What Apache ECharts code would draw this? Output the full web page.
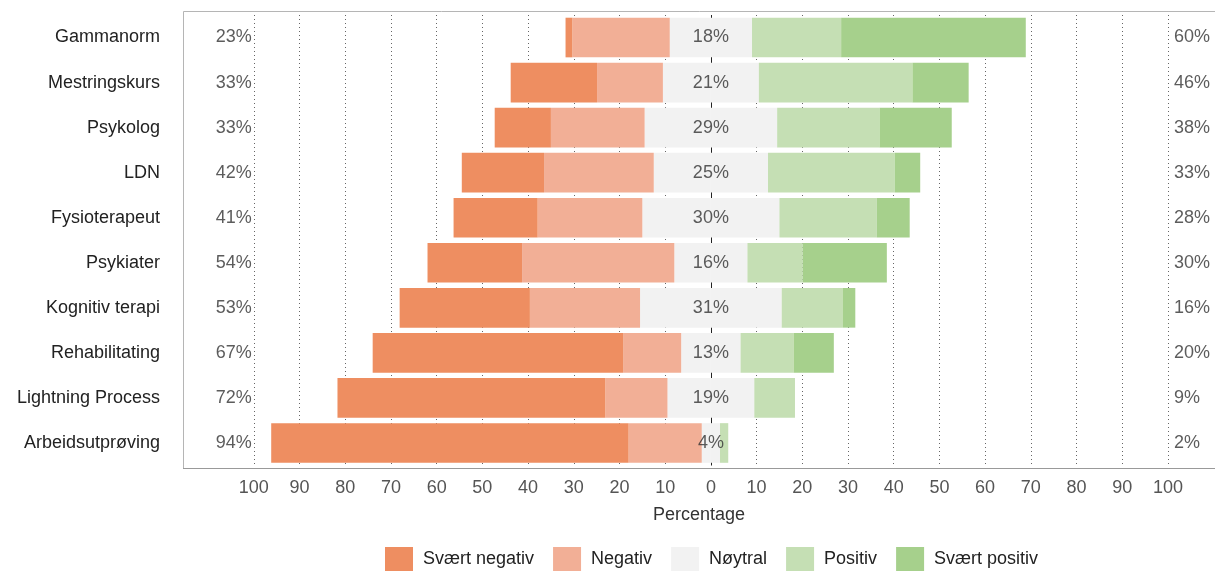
<!DOCTYPE html>
<html>
<head>
<meta charset="utf-8">
<script src="https://cdn.jsdelivr.net/npm/echarts@6/dist/echarts.min.js"></script>
<style>
html,body{margin:0;padding:0;background:#fff;}
#chart{width:1215px;height:571px;}
</style>
</head>
<body>
<div id="chart"></div>
<script>
const categories = ['Gammanorm','Mestringskurs','Psykolog','LDN','Fysioterapeut','Psykiater','Kognitiv terapi','Rehabilitating','Lightning Process','Arbeidsutprøving'];
const sværtNegativ = [1.5, 18.9, 12.3, 18, 18.4, 20.7, 28.5, 54.8, 58.6, 78.2];
const negativ      = [21.3, 14.4, 20.5, 24, 22.9, 33.3, 24.1, 12.7, 13.6, 16];
const nøytral      = [18, 21, 29, 25, 30, 16, 31, 13, 19, 4];
const positiv      = [19.5, 33.6, 22.4, 27.7, 21.3, 12.1, 13.3, 11.6, 8.9, 1.8];
const sværtPositiv = [40.4, 12.3, 15.8, 5.6, 7.2, 18.4, 2.8, 8.8, 0, 0];
const leftPct    = [23, 33, 33, 42, 41, 54, 53, 67, 72, 94];
const neutralPct = [18, 21, 29, 25, 30, 16, 31, 13, 19, 4];
const rightPct   = [60, 46, 38, 33, 28, 30, 16, 20, 9, 2];
const tickValues = [-100,-90,-80,-70,-60,-50,-40,-30,-20,-10,0,10,20,30,40,50,60,70,80,90,100];
const legendNames = ['Svært negativ','Negativ','Nøytral','Positiv','Svært positiv'];
const colors = {'Svært negativ':'#EE8E61','Negativ':'#F2AF96','Nøytral':'#F2F2F2','Positiv':'#C5DFB4','Svært positiv':'#A6D08C'};

const FONT = 'Liberation Sans, Arial, sans-serif';
const FS = 18;
const chart = echarts.init(document.getElementById('chart'), null, {renderer:'canvas'});

function barSeries(name, data, extra) {
  return Object.assign({
    name: name, type: 'bar', stack: 'likert', data: data,
    barCategoryGap: '12%',
    itemStyle: {color: colors[name]},
    emphasis: {disabled: true},
    animation: false
  }, extra || {});
}

const gridMarks = tickValues.filter(v => v !== 0).map(v => ({xAxis: v}));

const series = [
  barSeries('Nøytral', nøytral.map(v => -v/2), {
    markLine: {
      silent: true, symbol: 'none', z: 1, animation: false,
      label: {show: false},
      lineStyle: {color: '#666', width: 1, type: [1, 3]},
      data: gridMarks.concat([{xAxis: 0, lineStyle: {color: '#222', type: 'solid', width: 1}}])
    }
  }),
  barSeries('Nøytral', nøytral.map(v => v/2)),
  barSeries('Negativ', negativ.map(v => -v)),
  barSeries('Positiv', positiv),
  barSeries('Svært negativ', sværtNegativ.map(v => -v)),
  barSeries('Svært positiv', sværtPositiv),
  {
    name: 'leftLabels', type: 'scatter', symbolSize: 0, silent: true, animation: false,
    data: categories.map((c, i) => [-100, c, leftPct[i]]),
    label: {show: true, position: 'left', distance: 2, color: '#333', fontSize: FS, fontFamily: FONT,
      formatter: p => p.data[2] + '%'}
  },
  {
    name: 'midLabels', type: 'scatter', symbolSize: 0, silent: true, animation: false, z: 5,
    data: categories.map((c, i) => [0, c, neutralPct[i]]),
    label: {show: true, position: 'inside', color: '#333', fontSize: FS, fontFamily: FONT,
      formatter: p => p.data[2] + '%'}
  },
  {
    name: 'rightLabels', type: 'scatter', symbolSize: 0, silent: true, animation: false,
    data: categories.map((c, i) => [100, c, rightPct[i]]),
    label: {show: true, position: 'right', distance: 6, color: '#333', fontSize: FS, fontFamily: FONT,
      formatter: p => p.data[2] + '%'}
  }
];

chart.setOption({
  backgroundColor: '#fff',
  animation: false,
  textStyle: {fontFamily: FONT},
  graphic: [{
    type: 'rect', silent: true, z: 0,
    shape: {x: 183.5, y: 11.5, width: 1040, height: 457},
    style: {fill: 'none', stroke: '#b5b5b5', lineWidth: 1}
  }, {
    type: 'line', silent: true, z: 0,
    shape: {x1: 183, y1: 468.5, x2: 1215, y2: 468.5},
    style: {stroke: '#999', lineWidth: 1}
  }],
  grid: {left: 183, right: 0, top: 15, bottom: 105.5},
  legend: {
    data: legendNames, left: 385, top: 547, padding: 0,
    itemWidth: 28, itemHeight: 25, itemGap: 19,
    icon: 'rect',
    textStyle: {fontSize: FS, color: '#222', fontFamily: FONT, padding: [0, 0, 0, 5]},
    selectedMode: false
  },
  xAxis: {
    type: 'value', min: -115.5, max: 110.3,
    name: 'Percentage', nameLocation: 'middle', nameGap: 41,
    nameTextStyle: {fontSize: FS, color: '#333', fontFamily: FONT},
    axisLine: {show: false},
    axisTick: {show: false},
    splitLine: {show: false},
    axisLabel: {customValues: tickValues, formatter: v => String(Math.abs(v)), fontSize: FS, color: '#555', margin: 14, fontFamily: FONT}
  },
  yAxis: {
    type: 'category', data: categories, inverse: true,
    axisLine: {show: false}, axisTick: {show: false}, splitLine: {show: false},
    axisLabel: {fontSize: FS, color: '#222', margin: 23, fontFamily: FONT}
  },
  series: series
});
</script>
</body>
</html>
